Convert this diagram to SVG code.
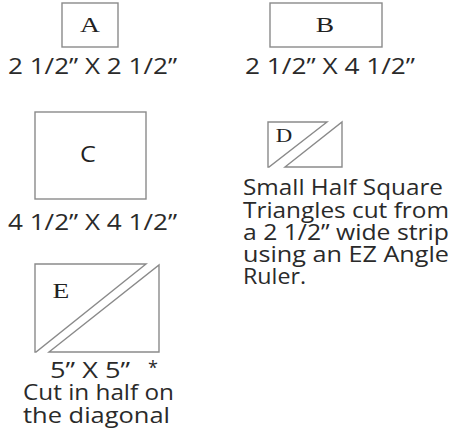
<svg xmlns="http://www.w3.org/2000/svg" width="456" height="434" viewBox="0 0 456 434">
<style>
.shape{fill:#fff;stroke:#8a8a8a;stroke-width:1.4}
.lbl{font-family:"Liberation Serif",serif;font-size:22px;fill:#222;text-anchor:middle}
.dim{font-family:"Open Sans",sans-serif;font-size:21px;fill:#2a2a2a}
.txt{font-family:"Open Sans",sans-serif;font-size:21px;fill:#2a2a2a}
</style>
<rect width="456" height="434" fill="#fff"/>
<g id="nodeA">
<rect class="shape" x="62" y="3" width="56" height="44"/>
<text class="lbl" transform="translate(90,32) scale(1.25,1)">A</text>
<text class="dim" x="8" y="74" textLength="169" lengthAdjust="spacingAndGlyphs">2 1/2” X 2 1/2”</text>
</g>
<g id="nodeB">
<rect class="shape" x="270" y="3" width="112" height="44"/>
<text class="lbl" transform="translate(325,32) scale(1.25,1)">B</text>
<text class="dim" x="245" y="74" textLength="170" lengthAdjust="spacingAndGlyphs">2 1/2” X 4 1/2”</text>
</g>
<g id="nodeC">
<rect class="shape" x="35" y="112" width="111" height="87"/>
<text class="lbl" transform="translate(88,162) scale(1.2,1)" style="font-family:'Open Sans',sans-serif;font-size:21px">C</text>
<text class="dim" x="8" y="230" textLength="169" lengthAdjust="spacingAndGlyphs">4 1/2” X 4 1/2”</text>
</g>
<g id="nodeD">
<polygon class="shape" points="268,122 327,122 269,167 268,167"/>
<polygon class="shape" points="342,122 342,167 285,167"/>
<text class="lbl" transform="translate(284,142) scale(1.2,1)" style="font-size:19px">D</text>
<text class="txt" x="243" y="195" textLength="200" lengthAdjust="spacingAndGlyphs">Small Half Square</text>
<text class="txt" x="243" y="218" textLength="206" lengthAdjust="spacingAndGlyphs">Triangles cut from</text>
<text class="txt" x="243" y="240" textLength="206" lengthAdjust="spacingAndGlyphs">a 2 1/2”  wide strip</text>
<text class="txt" x="243" y="262" textLength="206" lengthAdjust="spacingAndGlyphs">using an EZ Angle</text>
<text class="txt" x="243" y="284" textLength="63" lengthAdjust="spacingAndGlyphs">Ruler.</text>
</g>
<g id="nodeE">
<polygon class="shape" points="35,264 146,264 36,352 35,352"/>
<polygon class="shape" points="159,265 159,352 49,352"/>
<text class="lbl" transform="translate(61,298) scale(1.25,1)">E</text>
<text class="dim" x="50" y="378" textLength="80" lengthAdjust="spacingAndGlyphs">5” X 5”</text>
<text class="dim" x="148" y="374" style="font-size:18px">*</text>
<text class="txt" x="23" y="400" textLength="151" lengthAdjust="spacingAndGlyphs">Cut in half on</text>
<text class="txt" x="23" y="423" textLength="147" lengthAdjust="spacingAndGlyphs">the diagonal</text>
</g>
<g id="connectors"/>
</svg>
